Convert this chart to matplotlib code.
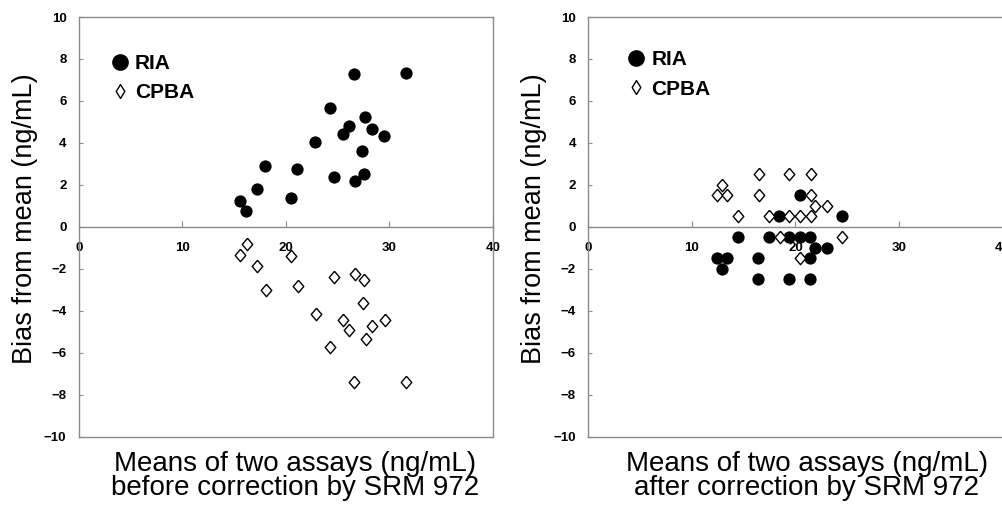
import matplotlib
matplotlib.use("Agg")
import matplotlib.pyplot as plt
from matplotlib.lines import Line2D

plt.rcParams['font.family'] = ['Liberation Sans', 'DejaVu Sans']

# before correction by SRM 972
ria_before_x = [26.6, 31.6, 24.3, 27.6, 26.1, 28.3, 25.5, 29.5, 22.8, 27.3,
                18.0, 21.1, 24.6, 27.5, 26.7, 17.2, 15.6, 20.5, 16.1]
ria_before_y = [7.3, 7.35, 5.65, 5.25, 4.8, 4.65, 4.4, 4.35, 4.05, 3.6,
                2.9, 2.75, 2.35, 2.5, 2.2, 1.8, 1.25, 1.35, 0.75]
cpba_before_x = [16.2, 15.6, 20.5, 17.2, 18.1, 21.2, 24.6, 26.7, 27.5, 27.4,
                 22.9, 25.5, 29.6, 26.1, 28.3, 27.7, 24.3, 26.6, 31.6]
cpba_before_y = [-0.8, -1.35, -1.4, -1.85, -3.0, -2.8, -2.4, -2.25, -2.55, -3.65,
                 -4.15, -4.45, -4.45, -4.9, -4.75, -5.35, -5.75, -7.4, -7.4]

# after correction by SRM 972
ria_after_x = [20.4, 18.4, 24.5, 14.4, 17.4, 19.4, 20.4, 21.4, 21.9, 23.0,
               12.4, 13.4, 16.4, 21.4, 12.9, 16.4, 19.4, 21.4]
ria_after_y = [1.5, 0.5, 0.5, -0.5, -0.5, -0.5, -0.5, -0.5, -1.0, -1.0,
               -1.5, -1.5, -1.5, -1.5, -2.0, -2.5, -2.5, -2.5]
cpba_after_x = [16.5, 19.4, 21.5, 12.9, 12.4, 13.4, 16.5, 21.5, 21.9, 23.0,
                14.4, 17.4, 19.4, 20.4, 21.5, 18.5, 24.5, 20.4]
cpba_after_y = [2.5, 2.5, 2.5, 2.0, 1.5, 1.5, 1.5, 1.5, 1.0, 1.0,
                0.5, 0.5, 0.5, 0.5, 0.5, -0.5, -0.5, -1.5]

xlabels = ["Means of two assays (ng/mL)\nbefore correction by SRM 972",
           "Means of two assays (ng/mL)\nafter correction by SRM 972"]

diamond = [(0, 1), (0.85, 0), (0, -1), (-0.85, 0), (0, 1)]
thin_diamond = [(0, 1), (0.62, 0), (0, -1), (-0.62, 0), (0, 1)]
grey = '#8a8a8a'

fig = plt.figure(figsize=(10.02, 5.05), dpi=100)
ax1 = fig.add_axes([0.0788, 0.1356, 0.4132, 0.8307])
ax2 = fig.add_axes([0.5873, 0.1356, 0.4132, 0.8307])

panels = [
    (ax1, ria_before_x, ria_before_y, cpba_before_x, cpba_before_y, xlabels[0],
     0.522, (0.079, 0.912)),
    (ax2, ria_after_x, ria_after_y, cpba_after_x, cpba_after_y, xlabels[1],
     0.527, (0.095, 0.921)),
]

for ax, rx, ry, cx, cy, xl, xlpos, legpos in panels:
    ax.scatter(rx, ry, s=78, marker='o', color='black', linewidths=0, zorder=3)
    ax.scatter(cx, cy, s=80, marker=diamond, facecolors='white',
               edgecolors='black', linewidths=1.0, zorder=3)
    ax.set_xlim(0, 40)
    ax.set_ylim(-10, 10)
    ax.set_xticks([0, 10, 20, 30, 40])
    ax.set_yticks(range(-10, 11, 2))
    for sp in ax.spines.values():
        sp.set_color(grey)
        sp.set_linewidth(1.0)
    # x axis runs along zero, box is closed with a plain line
    ax.spines['bottom'].set_position(('data', 0))
    ax.axhline(-10, color=grey, lw=1.0, clip_on=False)
    ax.tick_params(axis='x', direction='in', length=4, width=0.8, color=grey,
                   pad=11, labelsize=9.5)
    ax.tick_params(axis='y', direction='in', length=3, width=0.8, color=grey,
                   pad=9, labelsize=9.5)
    for lab in ax.get_xticklabels() + ax.get_yticklabels():
        lab.set_fontweight('bold')
    ax.set_ylabel("Bias from mean (ng/mL)", fontsize=19.5)
    ax.yaxis.set_label_coords(-0.1, 0.52)
    ax.set_xlabel(xl, fontsize=20, linespacing=0.92)
    ax.xaxis.set_label_coords(xlpos, -0.034)

    handles = [
        Line2D([], [], marker='o', ls='none', color='black', markersize=11),
        Line2D([], [], marker=thin_diamond, ls='none', markerfacecolor='white',
               markeredgecolor='black', markeredgewidth=1.0, markersize=10),
    ]
    ax.legend(handles, ["RIA", "CPBA"], loc='upper left', bbox_to_anchor=legpos,
              frameon=False, prop={'weight': 'bold', 'size': 15},
              handletextpad=0.32, handlelength=0.8, labelspacing=0.5,
              borderaxespad=0, borderpad=0)

fig.savefig("out.png", dpi=100, facecolor='white')
